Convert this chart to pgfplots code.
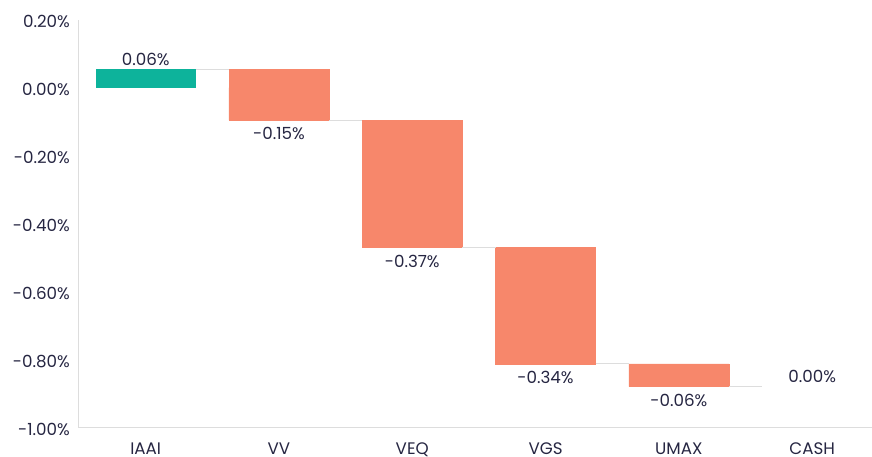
\documentclass[border=0pt]{standalone}
\usepackage{fontspec}
\setmainfont{Poppins}
\usepackage{pgfplots}
\pgfplotsset{compat=1.18}
\definecolor{txt}{HTML}{262642}
\definecolor{gr}{HTML}{0DB39B}
\definecolor{sal}{HTML}{F7876B}
\definecolor{ax}{HTML}{DDDDDD}
\newcommand\fs{\fontsize{16.7}{19}\selectfont}
\begin{document}
\fs
\begin{tikzpicture}[x=1pt,y=1pt]
\useasboundingbox (-79,-28.3) rectangle (793,427.7);
\pgfplotsset{common/.style={
  at={(0,0)}, anchor=south west, scale only axis,
  width=793pt, height=408pt,
  xmin=-0.5, xmax=5.449, ymin=-1, ymax=0.2,
}}
% bars (positive and negative parts stacked separately from zero)
\begin{axis}[common, hide axis, ybar stacked, bar width=0.75]
\addplot[draw=none, fill=none] coordinates {(0,0) (1,0) (2,-0.095) (3,-0.47) (4,-0.812) (5,-0.879)};
\addplot[draw=none, fill=gr] coordinates {(0,0.055) (1,0) (2,0) (3,0) (4,0) (5,0)};
\addplot[draw=sal, line width=0.2pt, fill=sal] coordinates {(0,0) (1,0.055) (2,0) (3,0) (4,0) (5,0)};
\addplot[draw=sal, line width=0.2pt, fill=sal] coordinates {(0,0) (1,-0.095) (2,-0.375) (3,-0.342) (4,-0.067) (5,0)};
\end{axis}
% frame, labels, connectors
\begin{axis}[common,
  axis x line*=bottom, axis y line*=left,
  axis line style={draw=ax, line width=1pt},
  x axis line style={-}, y axis line style={-},
  tick style={draw=none},
  xtick={0,1,2,3,4,5},
  xticklabels={IAAI,VV,VEQ,VGS,UMAX,CASH},
  ytick={-1,-0.8,-0.6,-0.4,-0.2,0,0.2},
  yticklabels={-1.00\%,-0.80\%,-0.60\%,-0.40\%,-0.20\%,0.00\%,0.20\%},
  ticklabel style={font=\fs, text=txt},
  xticklabel style={anchor=base, yshift=-26.5pt},
  yticklabel style={anchor=east, xshift=-9pt, yshift=-2pt, inner sep=0pt},
  clip=false,
  unbounded coords=jump,
]
\addplot[draw=ax, line width=1pt] table {
x y
0.375 0.055
0.625 0.055
nan nan
1.375 -0.095
1.625 -0.095
nan nan
2.375 -0.47
2.625 -0.47
nan nan
3.375 -0.812
3.625 -0.812
nan nan
4.375 -0.879
4.625 -0.879
};
\addplot[only marks, mark=none, point meta=explicit symbolic,
  nodes near coords={\pgfplotspointmeta\%},
  nodes near coords style={anchor=base, yshift=4pt, inner sep=0pt, text=txt, font=\fs}]
  table[meta=lab] {
x y lab
0 0.055 0.06
5 -0.879 0.00
};
\addplot[only marks, mark=none, point meta=explicit symbolic,
  nodes near coords={\pgfplotspointmeta\%},
  nodes near coords style={anchor=north, yshift=-7pt, inner sep=0pt, text=txt, font=\fs}]
  table[meta=lab] {
x y lab
1 -0.095 -0.15
2 -0.47 -0.37
3 -0.812 -0.34
4 -0.879 -0.06
};
\end{axis}
\end{tikzpicture}
\end{document}
